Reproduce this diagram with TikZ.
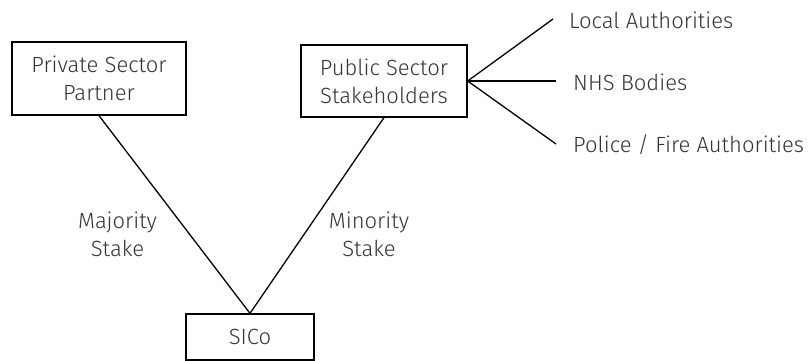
\documentclass[tikz,border=0pt]{standalone}
\usepackage{fontspec}
\setmainfont{Fira Sans}[UprightFont={* Light}]
\definecolor{txt}{HTML}{333333}
\begin{document}
\begin{tikzpicture}[x=1pt,y=1pt,
  box/.style={draw=black,line width=1.3pt,minimum height=#1,inner sep=0pt,align=center,text=txt,font=\fontsize{22}{28}\selectfont},
  box/.default=73pt,
  lbl/.style={align=center,text=txt,font=\fontsize{22}{28}\selectfont,inner sep=0pt},
  leaf/.style={anchor=west,text=txt,font=\fontsize{22}{28}\selectfont,inner sep=0pt},
  conn/.style={line width=1.3pt}]
\useasboundingbox (0,0) rectangle (808,360);
\node[box=73pt,minimum width=174pt] (priv) at (99,281.5) {Private Sector\\Partner};
\node[box=72pt,minimum width=166pt] (pub) at (384,279) {Public Sector\\Stakeholders};
\node[box=46pt,minimum width=128pt] (sico) at (250,23) {SICo};
\coordinate (e1) at (553,341);
\coordinate (e2) at (556,279);
\coordinate (e3) at (556,216);
\node[leaf] (la) at (569,340) {Local Authorities};
\node[leaf] (nhs) at (573,278) {NHS Bodies};
\node[leaf] (pol) at (573,215) {Police / Fire Authorities};
\node[lbl] (maj) at (117.5,126) {Majority\\Stake};
\node[lbl] (min) at (369,126) {Minority\\Stake};
\draw[conn] (priv.south) -- (sico.north);
\draw[conn] (pub.south) -- (sico.north);
\draw[conn] (pub.east) -- (e1);
\draw[conn] (pub.east) -- (e2);
\draw[conn] (pub.east) -- (e3);
\end{tikzpicture}
\end{document}
